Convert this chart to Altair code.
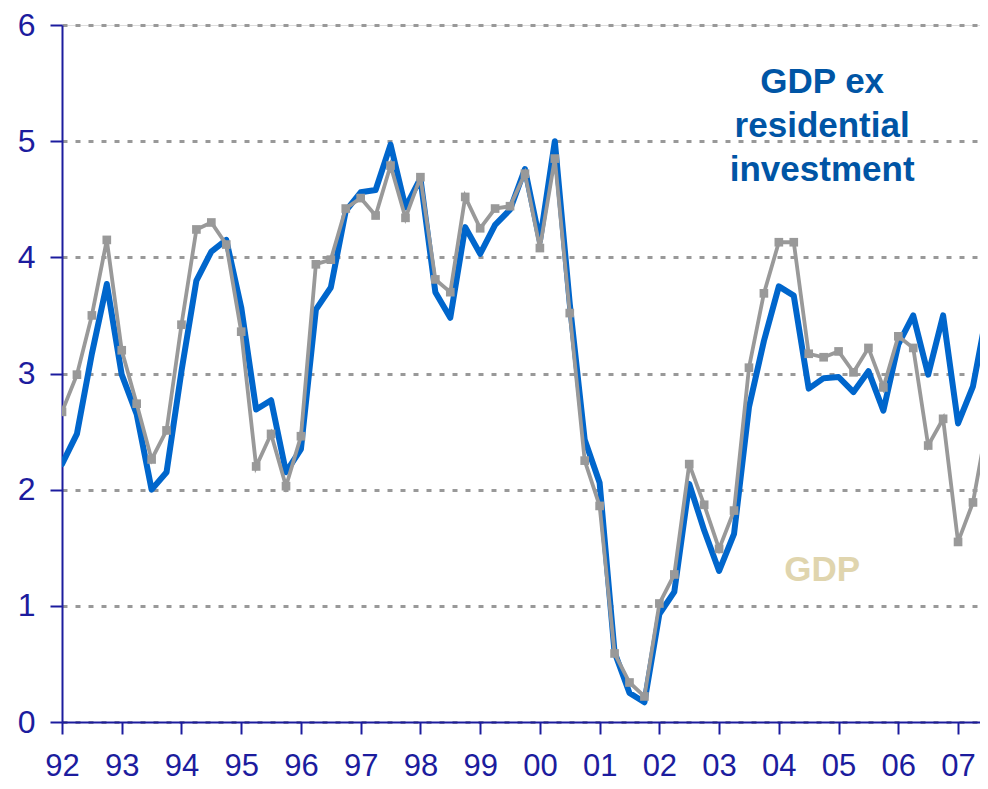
import altair as alt
import pandas as pd

years = ["92", "93", "94", "95", "96", "97", "98", "99",
         "00", "01", "02", "03", "04", "05", "06", "07"]

# quarterly, 1992Q1 .. 2007Q3
gdp = [2.67, 2.99, 3.50, 4.15, 3.20, 2.74, 2.26, 2.51,
       3.42, 4.24, 4.30, 4.11, 3.36, 2.20, 2.48, 2.03,
       2.46, 3.94, 3.98, 4.42, 4.51, 4.36, 4.79, 4.34,
       4.69, 3.81, 3.70, 4.52, 4.25, 4.42, 4.44, 4.72,
       4.08, 4.85, 3.52, 2.25, 1.86, 0.59, 0.34, 0.22,
       1.02, 1.27, 2.22, 1.87, 1.49, 1.82, 3.05, 3.69,
       4.13, 4.13, 3.17, 3.14, 3.19, 3.01, 3.22, 2.88,
       3.32, 3.22, 2.38, 2.61, 1.55, 1.89, 2.60]

gdp_ex_resi = [2.22, 2.48, 3.17, 3.77, 2.99, 2.65, 2.00, 2.15,
               3.02, 3.80, 4.05, 4.15, 3.57, 2.69, 2.77, 2.15,
               2.35, 3.55, 3.74, 4.40, 4.56, 4.58, 4.97, 4.43,
               4.68, 3.70, 3.48, 4.26, 4.03, 4.28, 4.41, 4.76,
               4.14, 5.00, 3.60, 2.43, 2.06, 0.60, 0.25, 0.17,
               0.93, 1.12, 2.05, 1.65, 1.30, 1.62, 2.71, 3.28,
               3.75, 3.67, 2.87, 2.96, 2.97, 2.84, 3.02, 2.68,
               3.25, 3.50, 2.99, 3.50, 2.57, 2.89, 3.57]

quarters = list(range(len(gdp)))
df = pd.DataFrame({"q": quarters, "gdp": gdp, "gdp_ex": gdp_ex_resi})

labels_df = pd.DataFrame({
    "q": [50.9, 50.9],
    "v": [5.51, 1.31],
    "t": ["GDP ex\nresidential\ninvestment", "GDP"],
    "c": ["ex", "gdp"],
})

navy = "#1c1c9e"
label_expr = "[" + ",".join("'" + y + "'" for y in years) + "][round(datum.value/4)]"

x_enc = alt.X(
    "q:Q",
    scale=alt.Scale(domain=[0, 61.47], nice=False, zero=False),
    axis=alt.Axis(
        values=list(range(0, 61, 4)),
        labelExpr=label_expr,
        title=None,
        grid=False,
        domainColor=navy, domainWidth=2,
        tickColor=navy, tickWidth=2, tickSize=12,
        labelColor=navy, labelFontSize=31, labelPadding=17,
        labelFont="Liberation Sans", labelFlush=False, labelOverlap=False,
    ),
)

def y_enc(field):
    return alt.Y(
        field,
        scale=alt.Scale(domain=[0, 6], nice=False),
        axis=alt.Axis(
            values=[0, 1, 2, 3, 4, 5, 6],
            format="d",
            title=None,
            grid=True, gridColor="#999999", gridWidth=3, gridDash=[5, 8],
            domainColor=navy, domainWidth=2,
            tickColor=navy, tickWidth=2, tickSize=12,
            labelColor=navy, labelFontSize=32, labelPadding=15,
            labelFont="Liberation Sans", labelFlush=False,
        ),
    )

blue = alt.Chart(df).mark_line(
    color="#0066cc", strokeWidth=6, strokeJoin="round", strokeCap="round", clip=True
).encode(x=x_enc, y=y_enc("gdp_ex:Q"))

gray = alt.Chart(df).mark_line(
    color="#999999", strokeWidth=3.8, clip=True,
    point=alt.OverlayMarkDef(shape="square", size=75, filled=True, color="#999999", opacity=1),
).encode(x=x_enc, y=y_enc("gdp:Q"))

text = alt.Chart(labels_df).mark_text(
    font="Liberation Sans", fontSize=35, fontWeight="bold",
    lineBreak="\n", lineHeight=44, align="center", baseline="middle",
).encode(
    x=alt.X("q:Q"),
    y=alt.Y("v:Q"),
    text="t:N",
    color=alt.Color("c:N", scale=alt.Scale(domain=["ex", "gdp"], range=["#0055a5", "#e0d5ae"]), legend=None),
)

chart = alt.layer(blue, gray, text).properties(
    width=918,
    height=697,
    autosize=alt.AutoSizeParams(type="none"),
    padding={"left": 54, "top": 17, "right": 0, "bottom": 59},
).configure_view(stroke=None).configure(background="white")

chart.save("out.html", embed_options={"renderer": "svg", "actions": False})
